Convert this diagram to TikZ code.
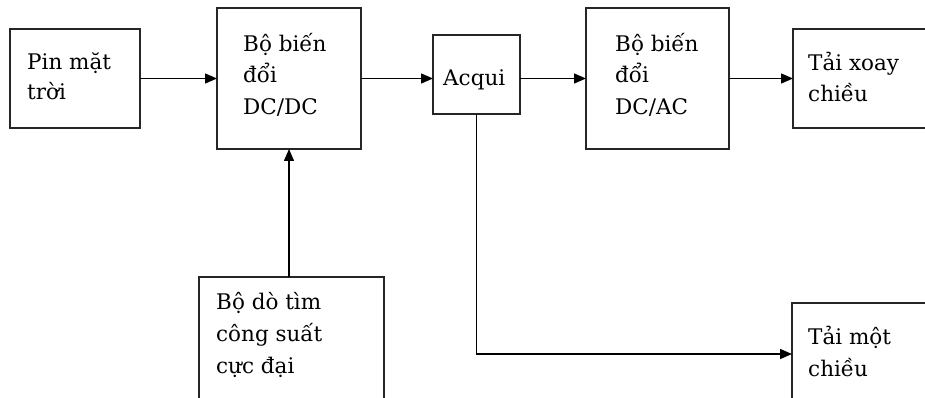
\documentclass[tikz,border=0pt]{standalone}
\usepackage{fontspec}
\setmainfont{DejaVu Serif}
\usetikzlibrary{arrows.meta}
\begin{document}
\begin{tikzpicture}[x=1pt,y=-1pt,
  box/.style={draw=black!85, line width=1.5pt, inner sep=0pt, outer sep=0pt, rectangle},
  txt/.style={anchor=base west, inner sep=0pt, font=\fontsize{21.5}{30}\selectfont},
  arr/.style={draw=black, line width=1.5pt, -{Triangle[length=12pt,width=10pt]}}]
\useasboundingbox (0,0) rectangle (925,398);
\clip (0,0) rectangle (925,398);
\fill[white] (0,0) rectangle (925,398);
% boxes
\node[box, minimum width=130, minimum height=99] (pin) at (75,78.5) {};
\node[box, minimum width=144, minimum height=141] (dcdc) at (289,78.5) {};
\node[box, minimum width=87, minimum height=79] (acqui) at (476.5,74.5) {};
\node[box, minimum width=143, minimum height=141] (dcac) at (657.5,78.5) {};
\node[box, minimum width=150, minimum height=99] (tai1) at (868,78.5) {};
\node[box, minimum width=185, minimum height=140] (mppt) at (291.5,347) {};
\node[box, minimum width=150, minimum height=102] (tai2) at (867,354) {};
% texts
\node[txt] (t1a) at (27,70) {Pin mặt};
\node[txt] (t1b) at (27,100) {trời};
\node[txt] (t2a) at (243,52) {Bộ biến};
\node[txt] (t2b) at (243,83) {đổi};
\node[txt] (t2c) at (243,115) {DC/DC};
\node[txt] (t3) at (443,86) {Acqui};
\node[txt] (t4a) at (615,52) {Bộ biến};
\node[txt] (t4b) at (615,83) {đổi};
\node[txt] (t4c) at (615,115) {DC/AC};
\node[txt] (t5a) at (808,71) {Tải xoay};
\node[txt] (t5b) at (808,102) {chiều};
\node[txt] (t6a) at (216,309) {Bộ dò tìm};
\node[txt] (t6b) at (216,341) {công suất};
\node[txt] (t6c) at (216,373) {cực đại};
\node[txt] (t7a) at (808,344) {Tải một};
\node[txt] (t7b) at (808,376) {chiều};
% connectors
\draw[arr] (pin.east) -- (pin.east -| dcdc.west);
\draw[arr] (dcdc.east) -- (dcdc.east -| acqui.west);
\draw[arr] (dcac.west -| acqui.east) -- (dcac.west);
\draw[arr] (dcac.east) -- (dcac.east -| tai1.west);
\draw[arr] (mppt.north -| dcdc.south) -- (dcdc.south);
\draw[arr] (acqui.south) |- (tai2.west);
\end{tikzpicture}
\end{document}
